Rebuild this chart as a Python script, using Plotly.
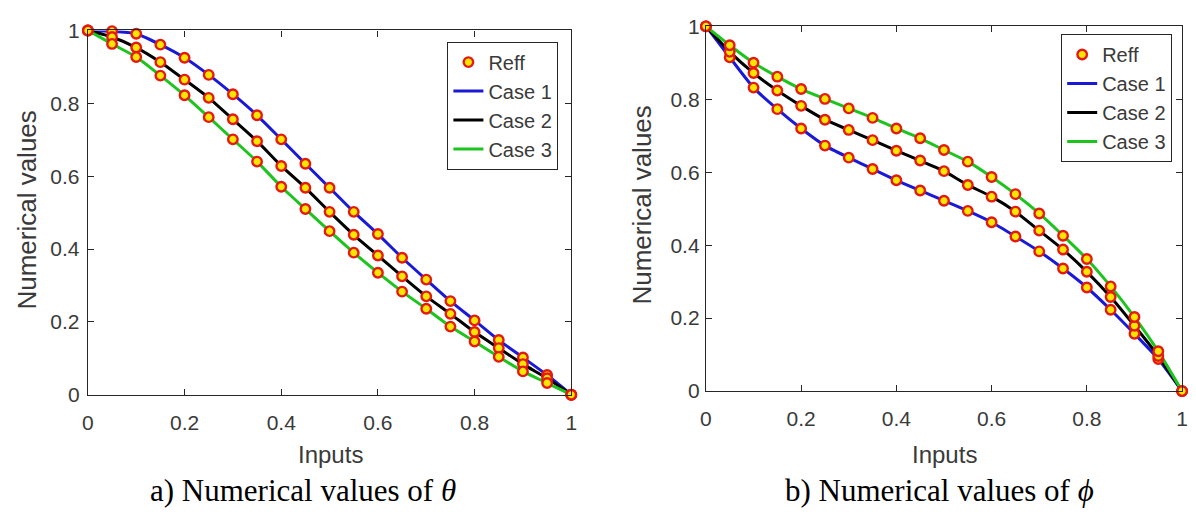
import plotly.graph_objects as go

# ---------------- data ----------------
inputs = [0.0, 0.05, 0.1, 0.15, 0.2, 0.25, 0.3, 0.35, 0.4, 0.45, 0.5,
          0.55, 0.6, 0.65, 0.7, 0.75, 0.8, 0.85, 0.9, 0.95, 1.0]

theta_case1 = [1.0, 0.998, 0.991, 0.961, 0.925, 0.878, 0.825, 0.767, 0.701, 0.634, 0.568,
               0.502, 0.441, 0.376, 0.316, 0.257, 0.204, 0.150, 0.102, 0.054, 0.0]
theta_case2 = [1.0, 0.982, 0.953, 0.913, 0.865, 0.815, 0.756, 0.696, 0.628, 0.568, 0.502,
               0.439, 0.382, 0.325, 0.270, 0.222, 0.172, 0.128, 0.084, 0.045, 0.0]
theta_case3 = [1.0, 0.963, 0.927, 0.876, 0.822, 0.762, 0.701, 0.640, 0.571, 0.510, 0.449,
               0.390, 0.335, 0.283, 0.236, 0.187, 0.146, 0.104, 0.064, 0.032, 0.0]

phi_case1 = [1.0, 0.915, 0.832, 0.773, 0.720, 0.673, 0.640, 0.609, 0.578, 0.550, 0.522,
             0.494, 0.463, 0.424, 0.383, 0.336, 0.284, 0.223, 0.157, 0.088, 0.0]
phi_case2 = [1.0, 0.930, 0.872, 0.824, 0.782, 0.744, 0.716, 0.688, 0.659, 0.632, 0.603,
             0.565, 0.533, 0.492, 0.440, 0.388, 0.327, 0.258, 0.179, 0.096, 0.0]
phi_case3 = [1.0, 0.948, 0.900, 0.862, 0.828, 0.801, 0.775, 0.749, 0.720, 0.693, 0.661,
             0.629, 0.587, 0.540, 0.487, 0.426, 0.362, 0.287, 0.203, 0.109, 0.0]

case_names = ["Case 1", "Case 2", "Case 3"]
case_colors = ["#1a1ad6", "#000000", "#1ec41e"]
tick_vals = [0, 0.2, 0.4, 0.6, 0.8, 1]
tick_text = ["0", "0.2", "0.4", "0.6", "0.8", "1"]

W, H = 1196, 518
SANS = "Liberation Sans, Arial, sans-serif"
SERIF = "Liberation Serif, Times New Roman, serif"
TXT = "#3a3a3a"

fig = go.Figure()

panels = [
    ("x", "y", "legend", [theta_case1, theta_case2, theta_case3]),
    ("x2", "y2", "legend2", [phi_case1, phi_case2, phi_case3]),
]

for xa, ya, lg, cases in panels:
    for i, (name, col, vals) in enumerate(zip(case_names, case_colors, cases)):
        fig.add_trace(go.Scatter(
            x=inputs, y=vals, mode="lines", name=name,
            line=dict(color=col, width=3, shape="spline", smoothing=0.6),
            xaxis=xa, yaxis=ya, legend=lg, legendrank=2 + i,
            cliponaxis=False,
        ))
    allx, ally = [], []
    for vals in cases:
        allx += inputs
        ally += vals
    fig.add_trace(go.Scatter(
        x=allx, y=ally, mode="markers", name="Reff",
        marker=dict(symbol="circle", size=9.5, color="#ffe600",
                    line=dict(color="#e41a10", width=2.4)),
        xaxis=xa, yaxis=ya, legend=lg, legendrank=1, cliponaxis=False,
    ))

def px_x(p):
    return p / W

def px_y(p):
    return 1 - p / H

axis_common = dict(
    range=[0, 1], tickvals=tick_vals, ticktext=tick_text,
    ticks="inside", ticklen=6, tickcolor="#262626", tickwidth=1,
    showline=True, linecolor="#262626", linewidth=1.2, mirror="ticks",
    showgrid=False, zeroline=False,
    tickfont=dict(family=SANS, size=21, color=TXT),
    fixedrange=True,
)

legend_common = dict(
    xanchor="right", yanchor="top",
    bordercolor="#262626", borderwidth=1, bgcolor="white",
    font=dict(family=SANS, size=20, color=TXT), tracegroupgap=0,
)

fig.update_layout(
    width=W, height=H,
    margin=dict(l=0, r=0, t=0, b=0),
    paper_bgcolor="white", plot_bgcolor="white",
    xaxis=dict(axis_common, domain=[px_x(82.7), px_x(571)], anchor="y", ticklabelstandoff=9),
    yaxis=dict(axis_common, domain=[px_y(400.5), px_y(19.3)], anchor="x", ticklabelstandoff=3),
    xaxis2=dict(axis_common, domain=[px_x(707), px_x(1188)], anchor="y2", ticklabelstandoff=9),
    yaxis2=dict(axis_common, domain=[px_y(396.7), px_y(15)], anchor="x2", ticklabelstandoff=1),
    legend=dict(legend_common, x=px_x(558), y=px_y(31)),
    legend2=dict(legend_common, x=px_x(1178), y=px_y(23)),
    showlegend=True,
)

annots = [
    dict(text="Numerical values", x=px_x(21), y=px_y(207), textangle=-90,
         font=dict(family=SANS, size=26, color=TXT)),
    dict(text="Numerical values", x=px_x(642), y=px_y(202), textangle=-90,
         font=dict(family=SANS, size=26, color=TXT)),
    dict(text="Inputs", x=px_x(328), y=px_y(463),
         font=dict(family=SANS, size=24, color=TXT)),
    dict(text="Inputs", x=px_x(948), y=px_y(463),
         font=dict(family=SANS, size=24, color=TXT)),
    dict(text="a) Numerical values of <i>θ</i>", x=px_x(300), y=px_y(501),
         font=dict(family=SERIF, size=31, color="#000000")),
    dict(text="b) Numerical values of <i>ϕ</i>", x=px_x(943), y=px_y(501),
         font=dict(family=SERIF, size=31, color="#000000")),
]
for a in annots:
    fig.add_annotation(xref="paper", yref="paper", showarrow=False,
                       xanchor="center", yanchor="middle", **a)

fig.write_html("out.html")
